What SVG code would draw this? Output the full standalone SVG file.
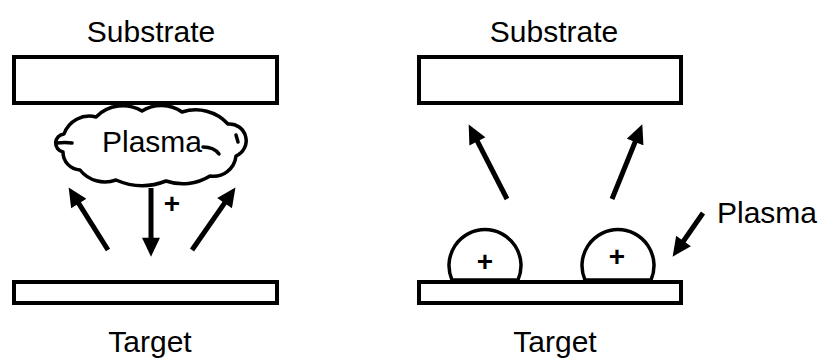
<svg xmlns="http://www.w3.org/2000/svg" width="819" height="361" viewBox="0 0 819 361">
  <defs>
    <style>
      .label { font-family: "Liberation Sans", Arial, sans-serif; font-size: 30px; fill: #000; text-anchor: middle; }
      .plus { font-family: "Liberation Sans", Arial, sans-serif; font-size: 28px; font-weight: bold; fill: #000; text-anchor: middle; }
      .plate { fill: #fff; stroke: #000; stroke-width: 4; }
      .outline { fill: #fff; stroke: #000; stroke-width: 3.5; stroke-linejoin: round; }
      .inner { fill: none; stroke: #000; stroke-width: 3.5; stroke-linecap: round; }
      .arrow { fill: none; stroke: #000; stroke-width: 5; marker-end: url(#head); }
    </style>
    <marker id="head" markerUnits="userSpaceOnUse" markerWidth="20" markerHeight="18" viewBox="0 0 18 17" refX="6" refY="8.5" orient="auto">
      <path d="M0,0 L18,8.5 L0,17 Z" fill="#000"/>
    </marker>
  </defs>

  <!-- Left panel: plasma between substrate and target -->
  <g id="left-substrate">
    <rect class="plate" x="14" y="57" width="263" height="46"/>
    <text class="label" x="151" y="42">Substrate</text>
  </g>
  <g id="left-target">
    <rect class="plate" x="14" y="282" width="263" height="21"/>
    <text class="label" x="150" y="352">Target</text>
  </g>
  <g id="left-plasma">
    <path class="outline" d="M64,134 A26.9,26.9 0 0 1 96,117 A37.6,37.6 0 0 1 142,111 A36.3,36.3 0 0 1 182,112 A43.8,43.8 0 0 1 228,124 A16.7,16.7 0 0 1 236,156 A22.7,22.7 0 0 1 210,176 A51.5,51.5 0 0 1 166,181 A65,65 0 0 1 116,180 A32,32 0 0 1 80,170 A17.9,17.9 0 0 1 63,152 A9.1,9.1 0 0 1 64,134 Z"/>
    <path class="inner" d="M57,143 Q65,142 72,143"/>
    <path class="inner" d="M203,147 Q214,147 219,154"/>
    <path class="inner" d="M236,135 L238,142"/>
    <text class="label" x="152" y="152">Plasma</text>
  </g>
  <g id="left-ion">
    <text class="plus" x="172" y="213">+</text>
  </g>

  <!-- Right panel: plasma confined near the target -->
  <g id="right-substrate">
    <rect class="plate" x="419" y="57" width="262" height="46"/>
    <text class="label" x="554" y="42">Substrate</text>
  </g>
  <g id="right-target">
    <rect class="plate" x="419" y="282" width="262" height="21"/>
    <text class="label" x="555" y="352">Target</text>
  </g>
  <g id="plasma-dome-1">
    <path class="outline" d="M452,280 A36,36 0 1 1 518,280 Z" stroke-width="3"/>
    <text class="plus" x="485" y="271">+</text>
  </g>
  <g id="plasma-dome-2">
    <path class="outline" d="M585,280 A36,36 0 1 1 651,280 Z" stroke-width="3"/>
    <text class="plus" x="617" y="266">+</text>
  </g>
  <g id="right-plasma-label">
    <text class="label" x="767" y="223">Plasma</text>
  </g>

  <!-- Connectors -->
  <g id="connectors">
    <line class="arrow" x1="108" y1="250" x2="75.4" y2="198.2"/>
    <line class="arrow" x1="151" y1="188" x2="151" y2="244"/>
    <line class="arrow" x1="192" y1="250" x2="228.2" y2="197.9"/>
    <line class="arrow" x1="507" y1="199" x2="474.5" y2="135.7"/>
    <line class="arrow" x1="612" y1="199" x2="637.5" y2="136.1"/>
    <line class="arrow" x1="703" y1="213" x2="679.9" y2="246.2"/>
  </g>
</svg>
